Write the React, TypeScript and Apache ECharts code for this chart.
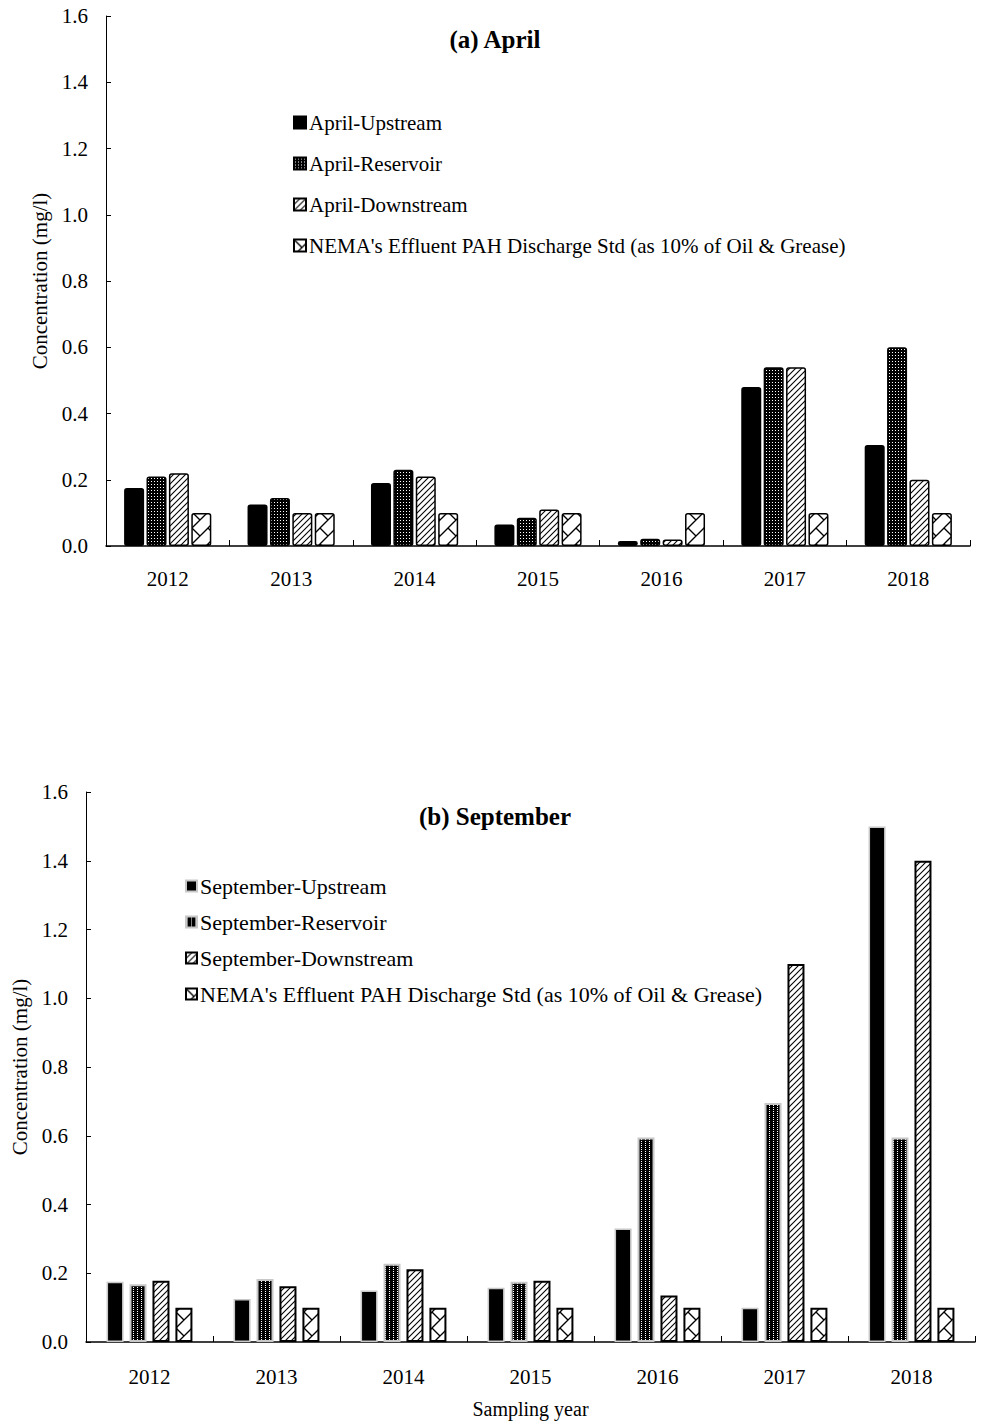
import React, { useEffect, useRef } from "react";
import * as echarts from "echarts";

const years = ["2012", "2013", "2014", "2015", "2016", "2017", "2018"];

const aprUpstream = [0.175, 0.125, 0.19, 0.065, 0.015, 0.48, 0.305];
const aprReservoir = [0.21, 0.145, 0.23, 0.085, 0.022, 0.54, 0.6];
const aprDownstream = [0.22, 0.1, 0.21, 0.11, 0.02, 0.54, 0.2];
const aprNema = [0.1, 0.1, 0.1, 0.1, 0.1, 0.1, 0.1];

const sepUpstream = [0.175, 0.125, 0.15, 0.158, 0.33, 0.1, 1.5];
const sepReservoir = [0.168, 0.183, 0.228, 0.175, 0.595, 0.695, 0.595];
const sepDownstream = [0.178, 0.162, 0.212, 0.178, 0.135, 1.1, 1.4];
const sepNema = [0.1, 0.1, 0.1, 0.1, 0.1, 0.1, 0.1];

const aprNames = [
  "April-Upstream",
  "April-Reservoir",
  "April-Downstream",
  "NEMA's Effluent PAH Discharge Std (as 10% of Oil & Grease)",
];
const sepNames = [
  "September-Upstream",
  "September-Reservoir",
  "September-Downstream",
  "NEMA's Effluent PAH Discharge Std (as 10% of Oil & Grease) ",
];

const FONT = "'Liberation Serif', 'Times New Roman', serif";

function makeTile(kind: string): HTMLCanvasElement {
  const c = document.createElement("canvas");
  let s = 6;
  if (kind === "dots") s = 3;
  if (kind === "dots2") s = 4;
  if (kind === "hatch") s = 6;
  if (kind === "net") s = 16;
  c.width = s;
  c.height = s;
  const g = c.getContext("2d")!;
  if (kind === "dots" || kind === "dots2") {
    g.fillStyle = "#000";
    g.fillRect(0, 0, s, s);
    g.fillStyle = "#fff";
    if (kind === "dots") {
      g.fillRect(1, 1, 1, 1);
    } else {
      g.fillRect(1, 1, 1, 1);
      g.fillRect(1, 3, 1, 1);
    }
  } else {
    g.fillStyle = "#fff";
    g.fillRect(0, 0, s, s);
    g.strokeStyle = "#000";
    g.lineWidth = kind === "net" ? 1.3 : 1.1;
    for (const off of [-s, 0, s]) {
      g.beginPath();
      g.moveTo(off - 1, s + 1);
      g.lineTo(off + s + 1, -1);
      g.stroke();
    }
    if (kind === "net") {
      for (const off of [-s, 0, s]) {
        g.beginPath();
        g.moveTo(off - 1, -1);
        g.lineTo(off + s / 2, s / 2);
        g.stroke();
      }
    }
  }
  return c;
}

function pat(kind: string) {
  const c = makeTile(kind);
  return { image: c, repeat: "repeat", imageWidth: c.width, imageHeight: c.height } as any;
}

export default function App() {
  const ref = useRef<HTMLDivElement>(null);
  useEffect(() => {
    if (!ref.current) return;
    const chart = echarts.init(ref.current, undefined, { renderer: "svg" });
    const dots = pat("dots");
    const dots2 = pat("dots2");
    const hatch = pat("hatch");
    const net = pat("net");

    const axisText = { color: "#000", fontFamily: FONT, fontSize: 21 };

    const yAxisBase = (gridIndex: number, nameGap: number) => ({
      type: "value",
      gridIndex,
      min: 0,
      max: 1.6,
      interval: 0.2,
      name: "Concentration (mg/l)",
      nameLocation: "middle",
      nameGap,
      nameTextStyle: { color: "#000", fontFamily: FONT, fontSize: 21 },
      axisLine: { show: true, lineStyle: { color: "#000", width: 1 } },
      axisTick: { show: true, inside: true, length: 5, lineStyle: { color: "#000" } },
      axisLabel: { ...axisText, margin: 18, formatter: (v: number) => v.toFixed(1) },
      splitLine: { show: false },
    });

    const xAxisBase = (gridIndex: number) => ({
      type: "category",
      gridIndex,
      data: years,
      axisLine: { show: true, lineStyle: { color: "#000", width: 1.5 } },
      axisTick: { show: true, inside: true, length: 6, lineStyle: { color: "#000" } },
      axisLabel: { ...axisText, margin: 22 },
      splitLine: { show: false },
    });

    const topBar = (name: string, data: number[], color: any, extra: any = {}) => ({
      type: "bar",
      name,
      xAxisIndex: 0,
      yAxisIndex: 0,
      data,
      barWidth: 20,
      barGap: "12%",
      itemStyle: { color, borderColor: "#000", borderWidth: 1.5, borderRadius: 2, ...extra },
    });
    const botBar = (name: string, data: number[], color: any, border: string, bw: number) => ({
      type: "bar",
      name,
      xAxisIndex: 1,
      yAxisIndex: 1,
      data,
      barWidth: 17,
      barGap: "35%",
      itemStyle: { color, borderColor: border, borderWidth: bw },
    });

    chart.setOption({
      animation: false,
      backgroundColor: "#fff",
      title: [
        {
          text: "(a) April",
          left: "center",
          top: 22,
          textStyle: { fontFamily: FONT, fontWeight: "bold", fontSize: 25, color: "#000" },
        },
        {
          text: "(b) September",
          left: "center",
          top: 799,
          textStyle: { fontFamily: FONT, fontWeight: "bold", fontSize: 25, color: "#000" },
        },
      ],
      legend: [
        {
          data: aprNames,
          orient: "vertical",
          left: 288,
          top: 107,
          itemWidth: 12,
          itemHeight: 12,
          itemGap: 20,
          icon: "rect",
          textStyle: { fontFamily: FONT, fontSize: 21, color: "#000", lineHeight: 21, padding: [0, 0, 0, -2] },
        },
        {
          data: sepNames,
          orient: "vertical",
          left: 180,
          top: 870,
          itemWidth: 11,
          itemHeight: 11,
          itemGap: 14,
          icon: "rect",
          textStyle: { fontFamily: FONT, fontSize: 22, color: "#000", lineHeight: 22, padding: [0, 0, 0, -2] },
        },
      ],
      grid: [
        { left: 106, top: 16, width: 864, height: 530 },
        { left: 86, top: 792, width: 889, height: 550 },
      ],
      xAxis: [
        xAxisBase(0),
        {
          ...xAxisBase(1),
          name: "Sampling year",
          nameLocation: "middle",
          nameGap: 57,
          nameTextStyle: { color: "#000", fontFamily: FONT, fontSize: 20 },
          axisLabel: { ...axisText, margin: 24 },
        },
      ],
      yAxis: [yAxisBase(0, 44), yAxisBase(1, 54)],
      series: [
        topBar(aprNames[0], aprUpstream, "#000"),
        topBar(aprNames[1], aprReservoir, dots),
        topBar(aprNames[2], aprDownstream, hatch),
        topBar(aprNames[3], aprNema, net),
        botBar(sepNames[0], sepUpstream, "#000", "#c8c8c8", 1.5),
        botBar(sepNames[1], sepReservoir, dots2, "#c8c8c8", 2),
        botBar(sepNames[2], sepDownstream, hatch, "#000", 2),
        botBar(sepNames[3], sepNema, net, "#000", 2),
      ],
    });
    return () => chart.dispose();
  }, []);
  return (
    <div
      ref={ref}
      style={{ position: "absolute", left: 0, top: 0, width: 990, height: 1426, background: "#fff" }}
    />
  );
}
